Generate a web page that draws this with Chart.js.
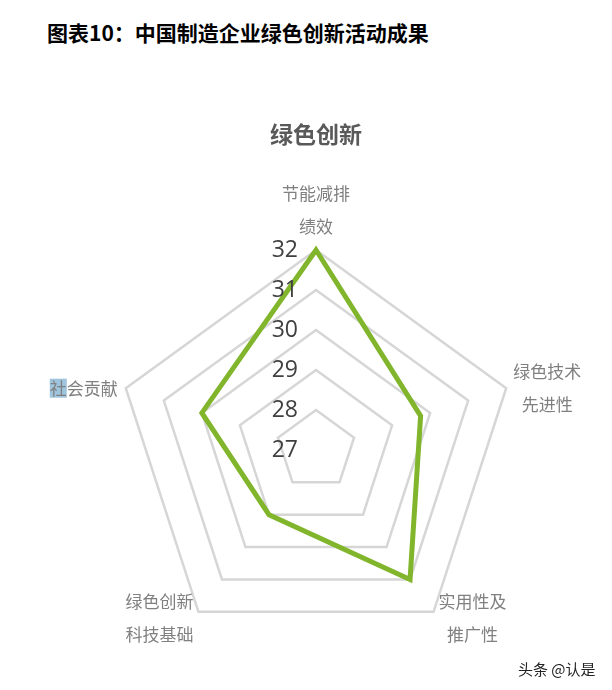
<!DOCTYPE html>
<html>
<head>
<meta charset="utf-8">
<script src="https://cdn.jsdelivr.net/npm/chart.js@4.4.1/dist/chart.umd.min.js"></script>
<style>
    html, body { margin: 0; padding: 0; background: #fff; }
    body { width: 612px; height: 690px; position: relative; overflow: hidden; }
    #header {
        position: absolute; left: 47px; top: 16px;
        font: bold 21px "Noto Sans CJK SC", sans-serif; color: #000;
        line-height: 32px; white-space: nowrap;
    }
    #wrap { position: absolute; left: 0; top: 0; width: 612px; height: 690px; }
    #mark {
        position: absolute; left: 518px; top: 658px;
        font: 15px "Noto Sans CJK SC", sans-serif; color: #222;
        white-space: nowrap;
    }
</style>
</head>
<body>
<div id="header">图表10：中国制造企业绿色创新活动成果</div>
<div id="wrap"><canvas id="radarChart"></canvas></div>
<div id="mark">头条 @认是</div>

<script>
// dữ liệu
const categories = [
    ["节能减排", "绩效"],
    ["绿色技术", "先进性"],
    ["实用性及", "推广性"],
    ["绿色创新", "科技基础"],
    ["社会贡献"],
];
const scores = [32, 29.75, 31, 29, 30];
const tickMin = 27;
const tickMax = 32;

const labelFont = '17px "Noto Sans CJK SC", sans-serif';
const tickFont = '23px "Open Sans", sans-serif';

// nhãn các trục, đặt giống Excel
const pointLabelPlugin = {
    id: "pointLabelPlugin",
    afterDraw(chart) {
        const scale = chart.scales.r;
        const ctx = chart.ctx;
        const cx = scale.xCenter;
        const lineH = 33;
        ctx.save();
        ctx.font = labelFont;
        ctx.textBaseline = "middle";
        categories.forEach((lines, i) => {
            const p = scale.getPointPosition(i, scale.drawingArea);
            const dx = p.x - cx;
            const n = lines.length;
            let x, align, firstY;
            if (Math.abs(dx) < 1) {
                align = "center";
                x = p.x;
                firstY = p.y - 23 - (n - 1) * lineH;
            } else {
                const below = p.y > scale.yCenter;
                const blockMid = below ? p.y + 6 : p.y;
                firstY = blockMid - ((n - 1) * lineH) / 2;
                if (dx > 0) {
                    align = "left";
                    x = p.x + (below ? 5 : 7);
                } else {
                    align = "right";
                    x = p.x - (below ? 5 : 8);
                }
            }
            // khối chữ căn giữa theo dòng dài nhất
            const widths = lines.map((t) => ctx.measureText(t).width);
            const maxW = Math.max(...widths);
            let mid = x;
            if (align === "left") mid = x + maxW / 2;
            if (align === "right") mid = x - maxW / 2;
            lines.forEach((t, k) => {
                const y = firstY + k * lineH;
                ctx.textAlign = "center";
                if (i === 4 && k === 0) {
                    // ô chọn màu xanh ở chữ đầu tiên
                    const w1 = ctx.measureText(t[0]).width;
                    const left = mid - widths[k] / 2;
                    ctx.fillStyle = "#9fc4de";
                    ctx.fillRect(left, y - 9.5, w1, 19);
                }
                ctx.fillStyle = "#808080";
                ctx.fillText(t, mid, y);
            });
        });
        ctx.restore();
    },
    afterDatasetsDraw(chart) {
        // số trên trục, lệch sang trái trục đứng
        const scale = chart.scales.r;
        const ctx = chart.ctx;
        ctx.save();
        ctx.font = tickFont;
        ctx.fillStyle = "#404040";
        ctx.textAlign = "right";
        ctx.textBaseline = "middle";
        scale.ticks.forEach((t) => {
            const p = scale.getPointPositionForValue(0, t.value);
            ctx.fillText(String(t.value), p.x - 18, p.y);
        });
        ctx.restore();
    },
};

document.addEventListener("DOMContentLoaded", () => {
    const ctx = document.getElementById("radarChart").getContext("2d");
    new Chart(ctx, {
        type: "radar",
        data: {
            labels: categories,
            datasets: [
                {
                    label: "绿色创新",
                    data: scores,
                    borderColor: "#80b52c",
                    backgroundColor: "rgba(0,0,0,0)",
                    borderWidth: 5,
                    borderJoinStyle: "miter",
                    pointRadius: 0,
                    pointHoverRadius: 0,
                    fill: false,
                    tension: 0,
                },
            ],
        },
        options: {
            responsive: true,
            maintainAspectRatio: false,
            animation: false,
            layout: { padding: { left: 20, right: 0, top: 0, bottom: 39 } },
            plugins: {
                legend: { display: false },
                tooltip: { enabled: false },
                title: {
                    display: true,
                    text: "绿色创新",
                    color: "#595959",
                    font: { family: '"Noto Sans CJK SC", sans-serif', size: 23, weight: "bold" },
                    padding: { top: 120, bottom: 103 },
                },
            },
            scales: {
                r: {
                    min: tickMin,
                    max: tickMax,
                    ticks: { stepSize: 1, display: false },
                    grid: { color: "#d6d6d6", lineWidth: 2.5, circular: false },
                    angleLines: { display: false },
                    pointLabels: { display: false },
                },
            },
        },
        plugins: [pointLabelPlugin],
    });
});
</script>
</body>
</html>
